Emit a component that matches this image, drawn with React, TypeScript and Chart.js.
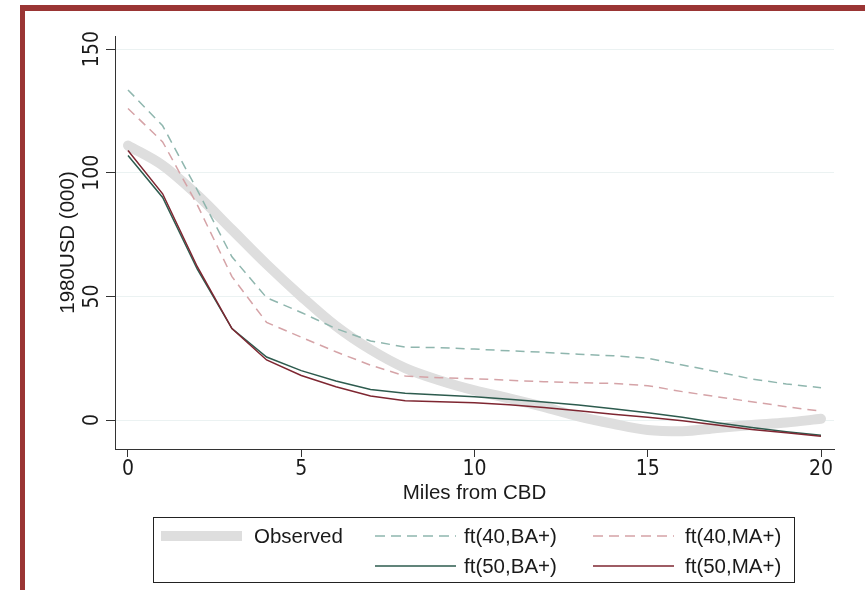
import React, { useEffect, useRef } from "react";
import { Chart, registerables } from "chart.js";
Chart.register(...registerables);

const miles = [0, 1, 2, 3, 4, 5, 6, 7, 8, 9, 10, 11, 12, 13, 14, 15, 16, 17, 18, 19, 20];
const observed = [111, 103, 91, 77, 63, 50, 38, 28.5, 21, 16, 12, 8.8, 5.3, 1.5, -1.5, -4, -4.5, -3.2, -2, -1, 0.5];
const ft40BA = [133.5, 119, 93, 66, 49.5, 43.5, 37, 32, 29.5, 29.3, 28.7, 28, 27.4, 26.6, 26, 25, 22.3, 19.5, 16.6, 14.6, 13.1];
const ft40MA = [126, 112.5, 87, 58, 39.5, 33.5, 27.6, 22.2, 17.8, 17.1, 16.7, 16.1, 15.5, 15.1, 14.8, 13.9, 11.5, 9.4, 7.4, 5.4, 3.6];
const ft50BA = [107, 90, 61, 37, 25.5, 20, 15.8, 12.4, 10.8, 10.1, 9.4, 8.4, 7.3, 6.1, 4.6, 3, 1.1, -1.1, -3, -4.7, -6.1];
const ft50MA = [109, 91.5, 62, 37, 24.3, 18, 13.5, 9.7, 7.8, 7.4, 7, 6.2, 5.1, 3.8, 2.4, 1.1, -0.3, -2, -3.8, -5.1, -6.5];

const xTicks = [0, 5, 10, 15, 20];
const yTicks = [0, 50, 100, 150];
const seriesLabels = ["Observed", "ft(40,BA+)", "ft(40,MA+)", "ft(50,BA+)", "ft(50,MA+)"];
const xTitle = "Miles from CBD";
const yTitle = "1980USD (000)";

const FONT = "'Liberation Sans', Arial, Helvetica, sans-serif";
const NARROW = "'Liberation Sans Narrow', 'Arial Narrow', 'DejaVu Sans Condensed', 'Liberation Sans', sans-serif";
const TEXT = "#1a1a1a";
const AXIS = "#333333";
const C_OBS = "#dedede";
const C_40BA = "#8fb6ae";
const C_40MA = "#d5a3a7";
const C_50BA = "#2d5b4e";
const C_50MA = "#7e2631";
const DASH = [9, 6];

function Swatch({ left, top, color, dashed, thick }: any) {
  const w = 81;
  const h = thick ? 10 : 4;
  return (
    <svg style={{ position: "absolute", left, top: top - h / 2, width: w, height: h }} width={w} height={h}>
      <line
        x1={0}
        y1={h / 2}
        x2={w}
        y2={h / 2}
        stroke={color}
        strokeWidth={thick ? 10 : 1.5}
        strokeDasharray={dashed ? "10 6" : undefined}
      />
    </svg>
  );
}

function LegendText({ left, top, text }: any) {
  return (
    <div
      style={{
        position: "absolute",
        left,
        top: top - 12,
        height: 24,
        lineHeight: "24px",
        fontFamily: FONT,
        fontSize: "20.5px",
        color: TEXT,
        whiteSpace: "nowrap",
      }}
    >
      {text}
    </div>
  );
}

export default function App() {
  const ref = useRef<HTMLCanvasElement>(null);
  useEffect(() => {
    const pts = (arr: number[]) => miles.map((m, i) => ({ x: m, y: arr[i] }));
    const tickFont = { family: NARROW, size: 21 };
    const titleFont = { family: FONT, size: 20.5 };
    const chart = new Chart(ref.current as HTMLCanvasElement, {
      type: "line",
      data: {
        datasets: [
          {
            label: seriesLabels[0],
            data: pts(observed),
            borderColor: C_OBS,
            borderWidth: 10,
            borderCapStyle: "round",
            borderJoinStyle: "round",
            cubicInterpolationMode: "monotone",
            pointRadius: 0,
            order: 10,
          },
          {
            label: seriesLabels[1],
            data: pts(ft40BA),
            borderColor: C_40BA,
            borderWidth: 1.5,
            borderDash: DASH,
            pointRadius: 0,
            order: 4,
          },
          {
            label: seriesLabels[2],
            data: pts(ft40MA),
            borderColor: C_40MA,
            borderWidth: 1.5,
            borderDash: DASH,
            pointRadius: 0,
            order: 3,
          },
          {
            label: seriesLabels[3],
            data: pts(ft50BA),
            borderColor: C_50BA,
            borderWidth: 1.5,
            pointRadius: 0,
            order: 2,
          },
          {
            label: seriesLabels[4],
            data: pts(ft50MA),
            borderColor: C_50MA,
            borderWidth: 1.5,
            pointRadius: 0,
            order: 1,
          },
        ],
      } as any,
      options: {
        animation: false,
        responsive: false,
        devicePixelRatio: 1,
        layout: { padding: { left: 50, right: 31, top: 36, bottom: 81 } },
        plugins: { legend: { display: false }, tooltip: { enabled: false } },
        scales: {
          x: {
            type: "linear",
            min: -0.375,
            max: 20.375,
            afterBuildTicks: (s: any) => {
              s.ticks = xTicks.map((v) => ({ value: v }));
            },
            afterFit: (s: any) => {
              s.height = 60;
            },
            grid: { drawOnChartArea: false, tickLength: 8, tickColor: AXIS, tickWidth: 1 },
            border: { color: AXIS, width: 1 },
            ticks: { font: tickFont, color: TEXT, padding: 0, maxRotation: 0, autoSkip: false },
            title: { display: true, text: xTitle, font: titleFont, color: TEXT, padding: { top: 0, bottom: 3 } },
          },
          y: {
            type: "linear",
            min: -11.7,
            max: 155.3,
            afterBuildTicks: (s: any) => {
              s.ticks = yTicks.map((v) => ({ value: v }));
            },
            afterFit: (s: any) => {
              s.width = 65;
            },
            grid: { color: "#ebf2f2", lineWidth: 1, tickLength: 9, tickColor: AXIS, tickWidth: 1 },
            border: { color: AXIS, width: 1 },
            ticks: {
              font: tickFont,
              color: TEXT,
              padding: -5,
              minRotation: 90,
              maxRotation: 90,
              crossAlign: "center",
              autoSkip: false,
            },
            title: { display: true, text: yTitle, font: titleFont, color: TEXT, padding: { top: 6, bottom: 0 } },
          },
        },
      } as any,
    });
    return () => chart.destroy();
  }, []);

  const r1 = 536;
  const r2 = 566;
  return (
    <div style={{ position: "absolute", left: 0, top: 0, width: 865, height: 590, background: "#fff", overflow: "hidden" }}>
      <canvas ref={ref} width={865} height={590} style={{ position: "absolute", left: 0, top: 0, width: 865, height: 590 }} />
      <div style={{ position: "absolute", left: 20, top: 5, width: 845, height: 6, background: "#9a3534" }} />
      <div style={{ position: "absolute", left: 20, top: 5, width: 5, height: 585, background: "#9a3534" }} />
      <div
        style={{
          position: "absolute",
          left: 153,
          top: 517,
          width: 642,
          height: 66,
          border: "1px solid #222",
          boxSizing: "border-box",
        }}
      />
      <Swatch left={161} top={r1} color={C_OBS} thick />
      <LegendText left={254} top={r1} text={seriesLabels[0]} />
      <Swatch left={375} top={r1} color={C_40BA} dashed />
      <LegendText left={464} top={r1} text={seriesLabels[1]} />
      <Swatch left={593} top={r1} color={C_40MA} dashed />
      <LegendText left={685} top={r1} text={seriesLabels[2]} />
      <Swatch left={375} top={r2} color={C_50BA} />
      <LegendText left={464} top={r2} text={seriesLabels[3]} />
      <Swatch left={593} top={r2} color={C_50MA} />
      <LegendText left={685} top={r2} text={seriesLabels[4]} />
    </div>
  );
}
